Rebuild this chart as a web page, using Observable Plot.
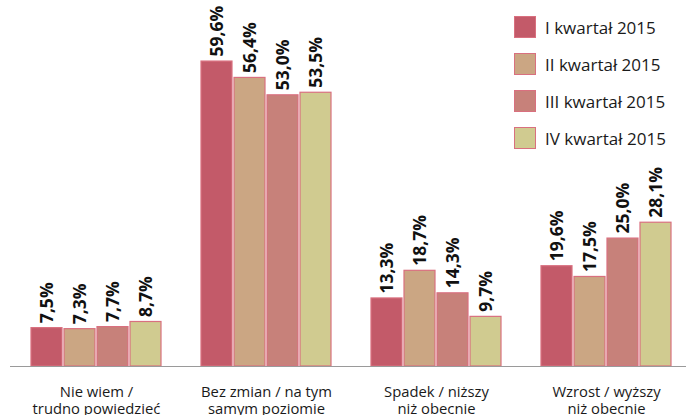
<!DOCTYPE html>
<html>
<head>
<meta charset="utf-8">
<script src="https://cdn.jsdelivr.net/npm/d3@7"></script>
<script src="https://cdn.jsdelivr.net/npm/@observablehq/plot@0.6"></script>
<style>
  html, body { margin: 0; padding: 0; background: #fff; }
  #wrap { position: relative; width: 686px; height: 415px; overflow: hidden; font-family: "Open Sans", sans-serif; }
  #legend { position: absolute; left: 514px; top: 16px; }
  .item { display: flex; align-items: center; height: 22px; margin-bottom: 15px; }
  .sw { width: 20px; height: 20px; border: 1.5px solid #d9707f; margin-right: 9px; }
  .lab { font-size: 17px; color: #1a1a1a; white-space: nowrap; }
</style>
</head>
<body>
<div id="wrap"><div id="legend"></div></div>
<script>
const categories = [
  "Nie wiem /\ntrudno powiedzieć",
  "Bez zmian / na tym\nsamym poziomie",
  "Spadek / niższy\nniż obecnie",
  "Wzrost / wyższy\nniż obecnie"
];
const series = ["I kwartał 2015", "II kwartał 2015", "III kwartał 2015", "IV kwartał 2015"];
const q1 = [7.5, 59.6, 13.3, 19.6];
const q2 = [7.3, 56.4, 18.7, 17.5];
const q3 = [7.7, 53.0, 14.3, 25.0];
const q4 = [8.7, 53.5, 9.7, 28.1];
const colors = ["#c35a69", "#cba683", "#c7817a", "#d0cb90"];

const seriesValues = [q1, q2, q3, q4];
const data = [];
categories.forEach((c, i) => {
  series.forEach((s, j) => data.push({cat: c, series: s, value: seriesValues[j][i]}));
});
const fmt = v => v.toFixed(1).replace(".", ",") + "%";

const chart = Plot.plot({
  width: 686,
  height: 415,
  marginLeft: 26,
  marginRight: 10,
  marginTop: 59,
  marginBottom: 49,
  style: {fontFamily: "'Open Sans', sans-serif", background: "transparent", overflow: "visible"},
  fx: {domain: categories, paddingInner: 0.19, paddingOuter: 0, label: null},
  x: {domain: series, padding: 0.06, axis: null},
  y: {domain: [0, 60], axis: null},
  color: {domain: series, range: colors},
  marks: [
    Plot.barY(data, {fx: "cat", x: "series", y: "value", fill: "series", stroke: "#d9707f", strokeWidth: 1.2}),
    Plot.ruleY([0], {stroke: "#9a9a9a", strokeWidth: 1.2, insetLeft: -17, insetRight: -17}),
    Plot.text(data, {fx: "cat", x: "series", y: "value", text: d => fmt(d.value), rotate: -90, textAnchor: "start", dy: -5, fontWeight: "bold", fontSize: 17.5, fill: "#111"}),
    Plot.axisFx({anchor: "bottom", tickSize: 0, tickPadding: 18, fontSize: 14.8, lineHeight: 1.15, label: null, fill: "#1a1a1a"})
  ]
});
document.getElementById("wrap").prepend(chart);

const legend = document.getElementById("legend");
series.forEach((s, j) => {
  const item = document.createElement("div");
  item.className = "item";
  const sw = document.createElement("div");
  sw.className = "sw";
  sw.style.background = colors[j];
  const lab = document.createElement("span");
  lab.className = "lab";
  lab.textContent = s;
  item.append(sw, lab);
  legend.append(item);
});
</script>
</body>
</html>
